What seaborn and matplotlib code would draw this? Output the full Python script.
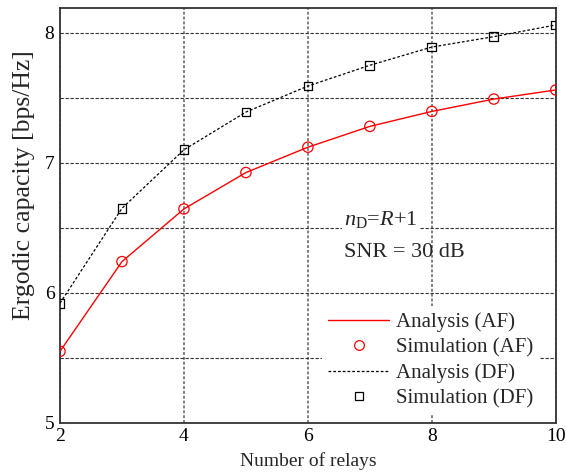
import matplotlib
matplotlib.use("Agg")
import matplotlib.pyplot as plt
import seaborn as sns
import numpy as np
from matplotlib.lines import Line2D

relays = [2, 3, 4, 5, 6, 7, 8, 9, 10]
af_values = [5.55, 6.24, 6.645, 6.925, 7.12, 7.28, 7.395, 7.49, 7.56]
df_values = [5.92, 6.65, 7.10, 7.39, 7.59, 7.75, 7.89, 7.97, 8.06]
x_ticks = [2, 4, 6, 8, 10]
y_ticks = [5, 6, 7, 8]

sns.set_theme(style="white")
plt.rcParams['font.family'] = ['Liberation Serif', 'DejaVu Serif']
plt.rcParams['mathtext.fontset'] = 'custom'
plt.rcParams['mathtext.rm'] = 'Liberation Serif'
plt.rcParams['mathtext.it'] = 'Liberation Serif:italic'

fig = plt.figure(figsize=(5.66, 4.73), dpi=100)
ax = fig.add_axes([0.106, 0.106, 0.876, 0.877])

sns.lineplot(x=relays, y=af_values, ax=ax, color='red', lw=1.0, zorder=3)
sns.scatterplot(x=relays, y=af_values, ax=ax, marker='o', s=55, facecolor='none',
                edgecolor='red', linewidth=0.9, zorder=4)
sns.lineplot(x=relays, y=df_values, ax=ax, color='black', lw=0.9, ls=(0, (2.2, 1.6)), zorder=3)
sns.scatterplot(x=relays, y=df_values, ax=ax, marker='s', s=40, facecolor='none',
                edgecolor='black', linewidth=0.9, zorder=4)

ax.set_xlim(2, 10)
ax.set_ylim(5, 8.19)
ax.set_xticks(x_ticks)
ax.set_yticks(y_ticks)
ax.set_yticks([5.5, 6.5, 7.5], minor=True)
ax.grid(axis='x', which='major', color='#808080', ls=(0, (1.5, 1)), lw=1.4)
ax.grid(axis='y', which='both', color='#333333', ls=(0, (3, 1.5)), lw=0.8)
ax.set_axisbelow(True)

for s in ax.spines.values():
    s.set_color('#333333')
    s.set_linewidth(1.3)
ax.tick_params(axis='both', which='both', length=0, labelsize=14, pad=4, colors='black')

ax.set_xlabel('Number of relays', fontsize=14, labelpad=5)
ax.set_ylabel('Ergodic capacity [bps/Hz]', fontsize=18.5)
ax.yaxis.set_label_coords(-0.05, 0.573)

ax.text(0.572, 0.49, r'$\mathit{n}_{\mathrm{D}}$=$\mathit{R}$+1', transform=ax.transAxes,
        fontsize=16, ha='left', va='center',
        bbox=dict(facecolor='white', edgecolor='none', pad=1.5))
ax.text(0.572, 0.41, 'SNR = 30 dB', transform=ax.transAxes,
        fontsize=16, ha='left', va='center')

handles = [
    Line2D([], [], color='red', lw=1.0),
    Line2D([], [], color='red', marker='o', ls='none', mfc='none', ms=7, mew=0.9),
    Line2D([], [], color='black', lw=0.9, ls=(0, (2.2, 1.6))),
    Line2D([], [], color='black', marker='s', ls='none', mfc='none', ms=6, mew=0.9),
]
labels = ['Analysis (AF)', 'Simulation (AF)', 'Analysis (DF)', 'Simulation (DF)']
leg = ax.legend(handles, labels, loc='lower right', fontsize=15, frameon=True,
                framealpha=1, edgecolor='none', facecolor='white', fancybox=False,
                handlelength=2.9, handletextpad=0.35, labelspacing=0.28,
                borderpad=0.3, bbox_to_anchor=(0.98, 0.004), borderaxespad=0.3)

fig.savefig('out.png', dpi=100)
